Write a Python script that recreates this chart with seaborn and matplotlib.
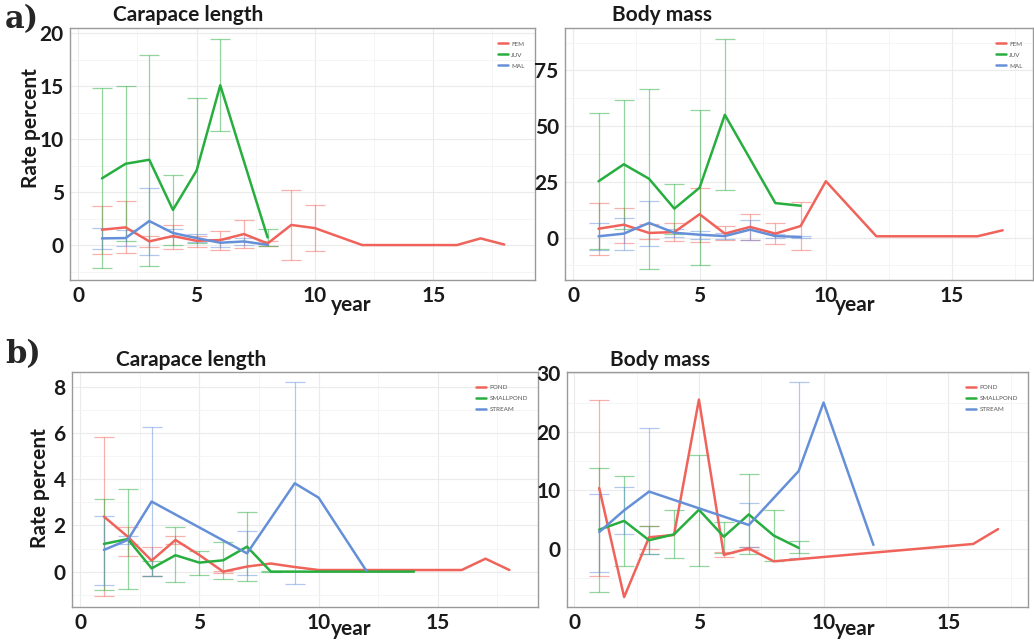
import pandas as pd
import matplotlib
matplotlib.use("Agg")
import matplotlib.pyplot as plt
from matplotlib.ticker import MultipleLocator
import seaborn as sns

# --- a) Carapace length, by sex/stage ---
a_cl_fem_x = [1, 2, 3, 4, 5, 6, 7, 8, 9, 10, 12, 16, 17, 18]
a_cl_fem_y = [1.45, 1.67, 0.35, 0.85, 0.4, 0.47, 1.04, 0.15, 1.9, 1.6, 0.0, 0.0, 0.63, 0.05]
a_cl_fem_ex = [1, 2, 3, 4, 5, 6, 7, 8, 9, 10]
a_cl_fem_lo = [-0.85, -0.73, -0.22, -0.38, -0.16, -0.47, -0.28, -0.05, -1.42, -0.6]
a_cl_fem_hi = [3.72, 4.13, 0.88, 1.92, 0.85, 1.36, 2.37, 0.34, 5.2, 3.79]
a_cl_juv_x = [1, 2, 3, 4, 5, 6, 8]
a_cl_juv_y = [6.3, 7.68, 8.06, 3.32, 7.04, 15.1, 0.72]
a_cl_juv_lo = [-2.2, 0.34, -1.96, 0.0, 0.19, 10.74, -0.06]
a_cl_juv_hi = [14.88, 15.0, 18.0, 6.63, 13.93, 19.46, 1.48]
a_cl_mal_x = [1, 2, 3, 4, 5, 6, 7, 8]
a_cl_mal_y = [0.63, 0.66, 2.27, 1.14, 0.66, 0.22, 0.34, 0.02]
a_cl_mal_ex = [1, 2, 3, 4, 5, 6, 7]
a_cl_mal_lo = [-0.38, -0.13, -0.92, 0.8, 0.3, -0.2, 0.0]
a_cl_mal_hi = [1.57, 1.4, 5.4, 1.5, 1.0, 0.6, 0.7]

# --- a) Body mass, by sex/stage ---
a_bm_fem_x = [1, 2, 3, 4, 5, 6, 7, 8, 9, 10, 12, 16, 17]
a_bm_fem_y = [4.0, 5.8, 2.1, 2.5, 10.5, 1.8, 4.8, 1.8, 5.2, 25.3, 0.6, 0.6, 3.3]
a_bm_fem_ex = [1, 2, 3, 4, 5, 6, 7, 8, 9]
a_bm_fem_lo = [-7.6, -2.4, -0.5, -1.5, -1.9, -1.2, -0.9, -3.0, -5.4]
a_bm_fem_hi = [15.7, 13.4, 6.0, 6.6, 22.3, 5.1, 10.8, 6.6, 16.0]
a_bm_juv_x = [1, 2, 3, 4, 5, 6, 8, 9]
a_bm_juv_y = [25.3, 32.9, 26.4, 13.0, 22.4, 55.1, 15.5, 14.3]
a_bm_juv_ex = [1, 2, 3, 4, 5, 6]
a_bm_juv_lo = [-5.0, 3.9, -13.9, 1.8, -12.1, 21.2]
a_bm_juv_hi = [56.0, 61.6, 66.8, 24.1, 57.1, 88.9]
a_bm_mal_x = [1, 2, 3, 4, 5, 6, 7, 8, 9]
a_bm_mal_y = [0.6, 1.8, 6.6, 2.2, 1.3, 0.7, 3.6, 0.7, 0.3]
a_bm_mal_lo = [-5.7, -5.4, -3.9, 0.4, -0.4, -0.6, -0.9, -0.1, -0.15]
a_bm_mal_hi = [6.7, 9.0, 16.6, 4.0, 3.0, 2.0, 8.1, 1.5, 0.7]

# --- b) Carapace length, by habitat ---
b_cl_pond_x = [1, 2, 3, 4, 5, 6, 7, 8, 9, 10, 16, 17, 18]
b_cl_pond_y = [2.38, 1.51, 0.48, 1.37, 0.72, 0.0, 0.22, 0.35, 0.2, 0.07, 0.07, 0.56, 0.07]
b_cl_pond_ex = [1, 2, 3, 4, 6]
b_cl_pond_lo = [-1.07, 0.68, -0.19, 1.2, -0.05]
b_cl_pond_hi = [5.82, 1.92, 1.08, 1.55, 0.02]
b_cl_small_x = [1, 2, 3, 4, 5, 6, 7, 8, 14]
b_cl_small_y = [1.2, 1.41, 0.14, 0.71, 0.39, 0.49, 1.08, 0.0, 0.0]
b_cl_small_ex = [1, 2, 3, 4, 5, 6, 7, 8]
b_cl_small_lo = [-0.79, -0.76, -0.19, -0.46, -0.14, -0.33, -0.4, -0.03]
b_cl_small_hi = [3.16, 3.59, 0.48, 1.92, 0.89, 1.27, 2.56, 0.04]
b_cl_stream_x = [1, 2, 3, 7, 9, 10, 12]
b_cl_stream_y = [0.94, 1.37, 3.03, 0.79, 3.82, 3.2, 0.04]
b_cl_stream_ex = [1, 2, 3, 7, 9]
b_cl_stream_lo = [-0.58, 1.2, -0.19, -0.14, -0.55]
b_cl_stream_hi = [2.42, 1.54, 6.24, 1.76, 8.18]

# --- b) Body mass, by habitat ---
b_bm_pond_x = [1, 2, 3, 4, 5, 6, 7, 8, 16, 17]
b_bm_pond_y = [10.4, -8.2, 2.0, 2.4, 25.5, -1.0, 0.1, -2.1, 0.86, 3.4]
b_bm_pond_ex = [1, 3, 6, 7]
b_bm_pond_lo = [-4.6, 0.0, -1.4, -0.2]
b_bm_pond_hi = [25.4, 3.9, -0.5, 0.3]
b_bm_small_x = [1, 2, 3, 4, 5, 6, 7, 8, 9]
b_bm_small_y = [3.3, 4.8, 1.5, 2.5, 6.7, 2.1, 5.9, 2.3, 0.2]
b_bm_small_lo = [-7.3, -2.9, -0.9, -1.6, -2.9, -0.6, -0.9, -2.0, -0.7]
b_bm_small_hi = [13.8, 12.5, 3.9, 6.6, 16.1, 4.6, 12.8, 6.6, 1.4]
b_bm_stream_x = [1, 2, 3, 7, 9, 10, 12]
b_bm_stream_y = [2.9, 6.6, 9.8, 4.1, 13.3, 25.0, 0.7]
b_bm_stream_ex = [1, 2, 3, 7, 9]
b_bm_stream_lo = [-3.9, 2.6, -0.9, 0.3, -1.6]
b_bm_stream_hi = [9.4, 10.6, 20.6, 7.8, 28.5]

sex_groups = ["FEM", "JUV", "MAL"]
habitat_groups = ["POND", "SMALLPOND", "STREAM"]
colors = ["#F0635B", "#27AE3F", "#6590D8"]

sns.set_style("white")
plt.rcParams["font.family"] = ["Lato", "DejaVu Sans"]


def make_df(groups, xs, ys):
    frames = []
    for g, x, y in zip(groups, xs, ys):
        frames.append(pd.DataFrame({"year": x, "rate": y, "group": g}))
    return pd.concat(frames, ignore_index=True)


def draw_panel(ax, groups, xs, ys, errs, xlim, ylim, ystep):
    df = make_df(groups, xs, ys)
    pal = dict(zip(groups, colors))
    # error bars first (light), then the mean lines
    for g, (ex, lo, hi) in zip(groups, errs):
        mid = [(a + b) / 2 for a, b in zip(lo, hi)]
        half = [(b - a) / 2 for a, b in zip(lo, hi)]
        ax.errorbar(ex, mid, yerr=half, fmt="none", ecolor=pal[g], alpha=0.5,
                    elinewidth=0.9, capsize=7.5, capthick=0.9, zorder=2)
    sns.lineplot(data=df, x="year", y="rate", hue="group", hue_order=groups,
                 palette=pal, linewidth=1.8, errorbar=None, ax=ax, zorder=3)

    ax.set_xlim(*xlim)
    ax.set_ylim(*ylim)
    ax.xaxis.set_major_locator(MultipleLocator(5))
    ax.xaxis.set_minor_locator(MultipleLocator(2.5))
    ax.yaxis.set_major_locator(MultipleLocator(ystep))
    ax.yaxis.set_minor_locator(MultipleLocator(ystep / 2))
    ax.grid(True, which="major", color="#ebebeb", linewidth=0.8)
    ax.grid(True, which="minor", color="#f4f4f4", linewidth=0.6)
    ax.set_axisbelow(True)
    for s in ax.spines.values():
        s.set_color("#9a9a9a")
        s.set_linewidth(1.0)
    ax.tick_params(axis="both", which="major", labelsize=15, length=3,
                   width=0.8, color="#444444", pad=1.5, labelcolor="#1a1a1a")
    ax.tick_params(axis="both", which="minor", length=0)
    for lab in ax.get_xticklabels() + ax.get_yticklabels():
        lab.set_fontweight("bold")
    ax.set_ylabel("")
    ax.set_xlabel("year", fontsize=15, fontweight="bold", color="#1a1a1a")

    leg = ax.legend(loc="upper right", bbox_to_anchor=(0.99, 0.97), frameon=False,
                    fontsize=4.5, handlelength=1.6, handletextpad=0.6,
                    labelspacing=0.9, title=None)
    for t in leg.get_texts():
        t.set_color("#555555")


fig = plt.figure(figsize=(10.34, 6.41), dpi=100)

ax1 = fig.add_axes([0.0677, 0.5632, 0.4497, 0.393])
ax2 = fig.add_axes([0.5464, 0.5632, 0.4526, 0.393])
ax3 = fig.add_axes([0.0696, 0.053, 0.4507, 0.3666])
ax4 = fig.add_axes([0.5484, 0.053, 0.4458, 0.3666])

draw_panel(ax1, sex_groups,
           [a_cl_fem_x, a_cl_juv_x, a_cl_mal_x],
           [a_cl_fem_y, a_cl_juv_y, a_cl_mal_y],
           [(a_cl_fem_ex, a_cl_fem_lo, a_cl_fem_hi),
            (a_cl_juv_x, a_cl_juv_lo, a_cl_juv_hi),
            (a_cl_mal_ex, a_cl_mal_lo, a_cl_mal_hi)],
           (-0.35, 19.3), (-3.3, 20.5), 5)
draw_panel(ax2, sex_groups,
           [a_bm_fem_x, a_bm_juv_x, a_bm_mal_x],
           [a_bm_fem_y, a_bm_juv_y, a_bm_mal_y],
           [(a_bm_fem_ex, a_bm_fem_lo, a_bm_fem_hi),
            (a_bm_juv_ex, a_bm_juv_lo, a_bm_juv_hi),
            (a_bm_mal_x, a_bm_mal_lo, a_bm_mal_hi)],
           (-0.33, 18.2), (-19, 94), 25)
draw_panel(ax3, habitat_groups,
           [b_cl_pond_x, b_cl_small_x, b_cl_stream_x],
           [b_cl_pond_y, b_cl_small_y, b_cl_stream_y],
           [(b_cl_pond_ex, b_cl_pond_lo, b_cl_pond_hi),
            (b_cl_small_ex, b_cl_small_lo, b_cl_small_hi),
            (b_cl_stream_ex, b_cl_stream_lo, b_cl_stream_hi)],
           (-0.34, 19.2), (-1.53, 8.63), 2)
draw_panel(ax4, habitat_groups,
           [b_bm_pond_x, b_bm_small_x, b_bm_stream_x],
           [b_bm_pond_y, b_bm_small_y, b_bm_stream_y],
           [(b_bm_pond_ex, b_bm_pond_lo, b_bm_pond_hi),
            (b_bm_small_x, b_bm_small_lo, b_bm_small_hi),
            (b_bm_stream_ex, b_bm_stream_lo, b_bm_stream_hi)],
           (-0.29, 18.2), (-9.9, 30.2), 10)

# "year" sits just right of the 10 tick, a bit lower
ax1.xaxis.set_label_coords(0.605, -0.06)
ax2.xaxis.set_label_coords(0.62, -0.06)
ax3.xaxis.set_label_coords(0.6, -0.05)
ax4.xaxis.set_label_coords(0.625, -0.05)

# titles and panel letters
fig.text(113 / 1034, 1 - 15 / 641, "Carapace length", fontsize=15, fontweight="bold",
         va="center", ha="left", color="#1a1a1a")
fig.text(612 / 1034, 1 - 15 / 641, "Body mass", fontsize=15, fontweight="bold",
         va="center", ha="left", color="#1a1a1a")
fig.text(116 / 1034, 1 - 360 / 641, "Carapace length", fontsize=15, fontweight="bold",
         va="center", ha="left", color="#1a1a1a")
fig.text(610 / 1034, 1 - 360 / 641, "Body mass", fontsize=15, fontweight="bold",
         va="center", ha="left", color="#1a1a1a")
fig.text(5 / 1034, 1 - 20 / 641, "a)", fontsize=22, fontweight="bold",
         family=["DejaVu Serif"], va="center", ha="left")
fig.text(5 / 1034, 1 - 355 / 641, "b)", fontsize=22, fontweight="bold",
         family=["DejaVu Serif"], va="center", ha="left")
fig.text(31 / 1034, 1 - 128 / 641, "Rate percent", fontsize=15, fontweight="bold",
         rotation=90, va="center", ha="center", color="#1a1a1a")
fig.text(40 / 1034, 1 - 488 / 641, "Rate percent", fontsize=15, fontweight="bold",
         rotation=90, va="center", ha="center", color="#1a1a1a")

fig.savefig("out.png", dpi=100)
